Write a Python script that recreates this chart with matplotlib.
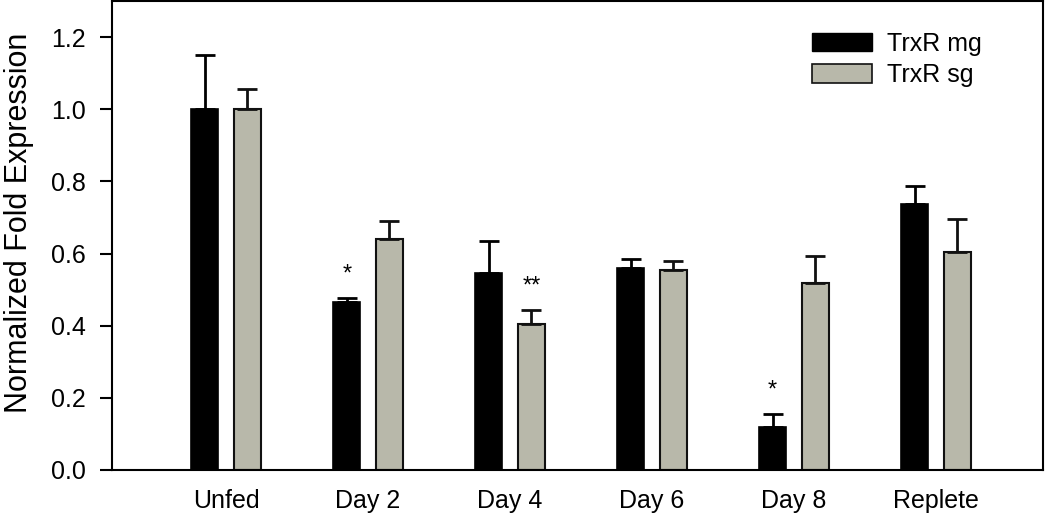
import matplotlib.pyplot as plt
import numpy as np
from matplotlib.patches import Patch

plt.rcParams["font.family"] = ["Liberation Sans", "DejaVu Sans"]

groups = ["Unfed", "Day 2", "Day 4", "Day 6", "Day 8", "Replete"]
mg_vals = [1.0, 0.466, 0.547, 0.561, 0.119, 0.736]
mg_err = [0.15, 0.01, 0.087, 0.023, 0.035, 0.05]
sg_vals = [1.0, 0.641, 0.405, 0.554, 0.518, 0.604]
sg_err = [0.055, 0.05, 0.038, 0.025, 0.074, 0.092]
# significance marks: (group, series, label)
marks = [("Day 2", "mg", "*"), ("Day 4", "sg", "**"), ("Day 8", "mg", "*")]

gray = "#b8b8aa"
x = np.arange(len(groups))
offset = 0.15
width = 0.19

fig = plt.figure(figsize=(10.5, 5.15), dpi=100)
ax = fig.add_axes([0.1067, 0.0874, 0.8866, 0.9106])

ax.bar(x - offset, mg_vals, width, color="black", edgecolor="black", linewidth=1.2,
       yerr=[np.zeros(len(x)), mg_err], error_kw=dict(ecolor="black", elinewidth=2,
       capsize=7, capthick=2), zorder=2)
ax.bar(x + offset, sg_vals, width, color=gray, edgecolor="#111111", linewidth=1.5,
       yerr=[np.zeros(len(x)), sg_err], error_kw=dict(ecolor="#111111", elinewidth=2,
       capsize=7, capthick=2), zorder=2)

for g, s, lab in marks:
    i = groups.index(g)
    if s == "mg":
        xp, top = i - offset, mg_vals[i] + mg_err[i]
    else:
        xp, top = i + offset, sg_vals[i] + sg_err[i]
    ax.text(xp, top + 0.035, lab, ha="center", va="bottom", fontsize=17)

ax.set_xlim(-0.803, 5.754)
ax.set_ylim(0, 1.3)
ticks = np.arange(0, 1.21, 0.2)
ax.set_yticks(ticks)
ax.set_yticklabels([f"{v:.1f}" for v in ticks], fontsize=18)
ax.set_xticks(x)
ax.set_xticklabels(groups, fontsize=18)
ax.tick_params(axis="x", length=0, pad=14)
ax.tick_params(axis="y", direction="out", length=9, width=1.5, pad=10)
for sp in ax.spines.values():
    sp.set_linewidth(1.5)
ax.set_ylabel("Normalized Fold Expression", fontsize=22)
ax.yaxis.set_label_coords(-0.084, 0.527)

handles = [Patch(facecolor="black", edgecolor="black", label="TrxR mg"),
           Patch(facecolor=gray, edgecolor="#111111", linewidth=1.2, label="TrxR sg")]
ax.legend(handles=handles, loc="upper left", bbox_to_anchor=(0.752, 0.935),
          frameon=False, fontsize=18, handlelength=2.4, handleheight=0.76,
          handletextpad=0.6, labelspacing=0.3, borderaxespad=0, borderpad=0)

fig.savefig("out.png", dpi=100)
